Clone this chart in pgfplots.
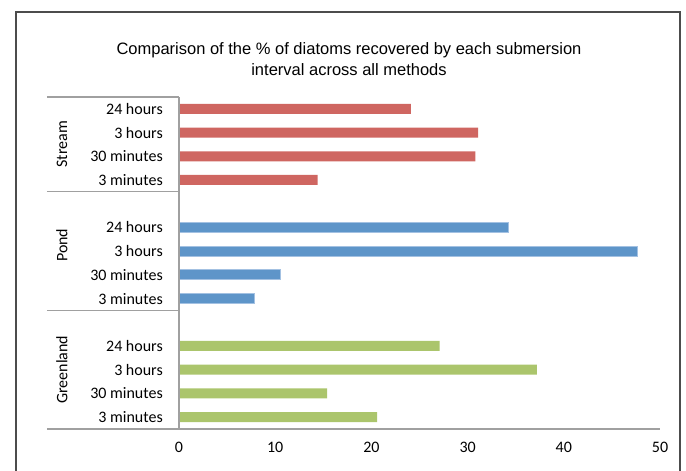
\documentclass[border=0pt]{standalone}
\usepackage{pgfplots}
\pgfplotsset{compat=1.18}
\usepackage{fontspec}
\setmainfont{Carlito}
\newfontfamily\titlefont{Liberation Sans}
\definecolor{streamred}{HTML}{CF6661}
\definecolor{pondblue}{HTML}{5E95C9}
\definecolor{pondedge}{HTML}{A3C1E2}
\definecolor{greengreen}{HTML}{ABC56C}
\definecolor{axgray}{HTML}{A0A0A0}
\newcommand{\lbl}{\fontsize{16bp}{19bp}\selectfont}

\begin{document}
\begin{tikzpicture}[x=1bp,y=1bp]
\useasboundingbox (0,0) rectangle (686,471);
% outer chart frame (bottom edge is cut off in the reference)
\draw[color=black!70, line width=1.5bp] (16,-2) -- (16,459) -- (680,459) -- (680,-2);
\node[font=\titlefont\fontsize{16.5bp}{20.5bp}\selectfont, align=center] at (349,412)
  {Comparison of the \% of diatoms recovered by each submersion\\interval across all methods};
\begin{axis}[
  at={(179bp,42bp)}, anchor=south west,
  scale only axis, width=481bp, height=332bp,
  xmin=0, xmax=50, ymin=-0.5, ymax=13.5,
  xtick={0,10,...,50},
  ytick={0,1,2,3,5,6,7,8,10,11,12,13},
  yticklabels={3 minutes,30 minutes,3 hours,24 hours,
               3 minutes,30 minutes,3 hours,24 hours,
               3 minutes,30 minutes,3 hours,24 hours},
  axis line style={draw=none},
  major tick length=0pt,
  tick label style={font=\lbl, inner sep=0pt},
  x tick label style={yshift=-13bp},
  y tick label style={xshift=-16bp},
  /pgf/number format/assume math mode=true,
  xbar, bar width=10bp, bar shift=0pt,
  clip=false,
]
\addplot[fill=greengreen, draw=none] coordinates {(20.6,0) (15.4,1) (37.2,2) (27.1,3)};
\addplot[fill=pondblue, draw=pondedge, line width=0.8bp] coordinates {(7.8,5) (10.5,6) (47.7,7) (34.2,8)};
\addplot[fill=streamred, draw=none] coordinates {(14.4,10) (30.8,11) (31.1,12) (24.1,13)};
% category axis and group boxes
\draw[axgray, line width=1.2bp] (axis cs:0,-0.5) -- (axis cs:0,13.5);
\draw[axgray, line width=1.2bp] ([xshift=-132bp]axis cs:0,-0.5) -- (axis cs:50,-0.5);
\draw[axgray, line width=1.2bp] ([xshift=-132bp]axis cs:0,4.5) -- (axis cs:0,4.5);
\draw[axgray, line width=1.2bp] ([xshift=-132bp]axis cs:0,9.5) -- (axis cs:0,9.5);
\draw[axgray, line width=1.2bp] ([xshift=-132bp]axis cs:0,13.5) -- (axis cs:0,13.5);
\node[rotate=90, font=\lbl] at ([xshift=-117bp]axis cs:0,11.5) {Stream};
\node[rotate=90, font=\lbl] at ([xshift=-117bp]axis cs:0,7.25) {Pond};
\node[rotate=90, font=\lbl] at ([xshift=-117bp]axis cs:0,2.0) {Greenland};
\end{axis}
\end{tikzpicture}
\end{document}
